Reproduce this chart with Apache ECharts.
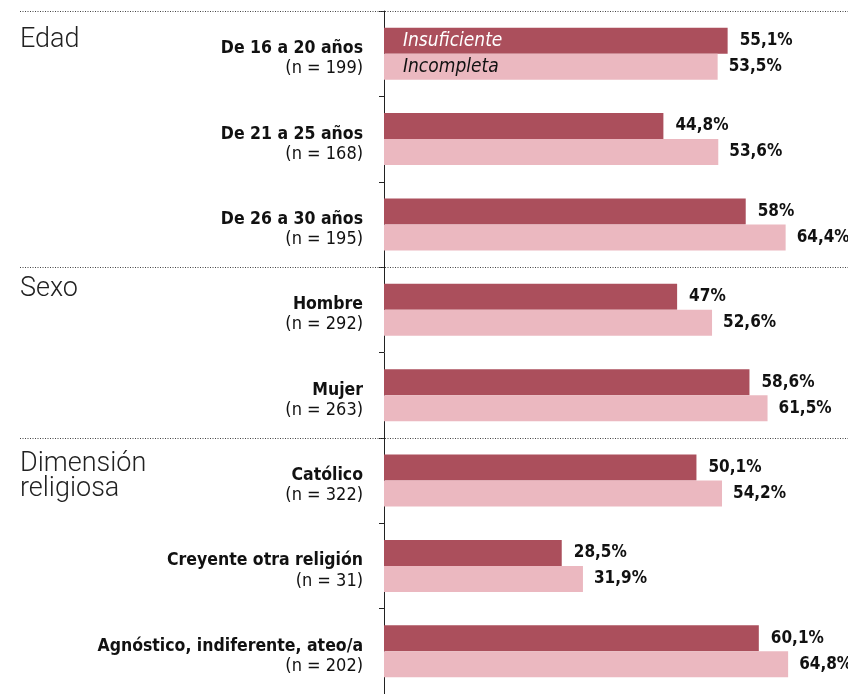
<!DOCTYPE html>
<html><head><meta charset="utf-8">
<script src="https://cdn.jsdelivr.net/npm/echarts@6/dist/echarts.min.js"></script>
<style>html,body{margin:0;padding:0;background:#fff}#c{width:848px;height:694px}</style>
</head><body><div id="c"></div>
<script>
var categories = ['De 16 a 20 años','De 21 a 25 años','De 26 a 30 años','Hombre','Mujer','Católico','Creyente otra religión','Agnóstico, indiferente, ateo/a'];
var sampleSizes = [199,168,195,292,263,322,31,202];
var insuficiente = [55.1,44.8,58,47,58.6,50.1,28.5,60.1];
var incompleta = [53.5,53.6,64.4,52.6,61.5,54.2,31.9,64.8];
var seriesNames = ['Insuficiente','Incompleta'];
var groups = [{name:'Edad', start:0},{name:'Sexo', start:3},{name:'Dimensión\nreligiosa', start:5}];

var FONT = '"DejaVu Sans Condensed", "DejaVu Sans", sans-serif';
var chart = echarts.init(document.getElementById('c'), null, {renderer:'canvas'});
function fmt(v){ return String(v).replace('.', ',') + '%'; }
var yLabels = categories.map(function(c,i){ return c + '\n(n = ' + sampleSizes[i] + ')'; });

chart.setOption({
  animation:false,
  grid:{left:384, top:11, right:0, height:688, containLabel:false},
  xAxis:{type:'value', min:0, max:74.4, show:false},
  yAxis:{type:'category', inverse:true, data:yLabels,
    axisLine:{show:true, lineStyle:{color:'#222', width:1}},
    axisTick:{show:true, length:5, lineStyle:{color:'#222'}},
    axisLabel:{margin:21, align:'right', padding:[10,0,0,0],
      formatter:function(v){ var p=v.split('\n'); return '{b|'+p[0]+'}\n{n|'+p[1]+'}'; },
      rich:{b:{fontFamily:FONT, fontWeight:'bold', fontSize:17.5, color:'#111', lineHeight:20, align:'right'},
            n:{fontFamily:FONT, fontSize:18, color:'#111', lineHeight:20, align:'right'}}}
  },
  series:[
    {name:seriesNames[0], type:'bar', data:insuficiente, barWidth:26, barGap:'0%',
     itemStyle:{color:'#AB4F5C'},
     label:{show:true, position:'right', distance:12, formatter:function(p){return fmt(p.value);},
       fontFamily:FONT, fontWeight:'bold', fontSize:17, color:'#111'}},
    {name:seriesNames[1], type:'bar', data:incompleta, barWidth:26, barGap:'0%',
     itemStyle:{color:'#EBB8C0'},
     label:{show:true, position:'right', distance:11, formatter:function(p){return fmt(p.value);},
       fontFamily:FONT, fontWeight:'bold', fontSize:17, color:'#111'}}
  ]
});

var axis = chart.getModel().getComponent('yAxis',0).axis;
var band = axis.getBandWidth();
function catCenter(i){ return chart.convertToPixel({yAxisIndex:0}, i); }
var graphics = [];
var groupOffsets = [17, 10, 14];
groups.forEach(function(g, gi){
  var yTop = catCenter(g.start) - band/2;
  graphics.push({type:'line', shape:{x1:20,y1:Math.round(yTop)+0.5,x2:848,y2:Math.round(yTop)+0.5},
    style:{stroke:'#444', lineWidth:1, lineDash:[1,1.5]}, z:10});
  graphics.push({type:'text', x:20, y:yTop+groupOffsets[gi],
    style:{text:g.name, fontFamily:'Roboto, sans-serif', fontWeight:300, fontSize:27, lineHeight:25, fill:'#222'}});
});
var x0 = chart.convertToPixel({xAxisIndex:0}, 0);
var c0 = catCenter(0);
graphics.push({type:'text', x:x0+19, y:c0-13, style:{text:seriesNames[0], fontFamily:FONT, fontStyle:'italic', fontSize:19, fill:'#fff', verticalAlign:'middle'}, z:20});
graphics.push({type:'text', x:x0+19, y:c0+13, style:{text:seriesNames[1], fontFamily:FONT, fontStyle:'italic', fontSize:19, fill:'#111', verticalAlign:'middle'}, z:20});
chart.setOption({graphic:graphics});
</script></body></html>
